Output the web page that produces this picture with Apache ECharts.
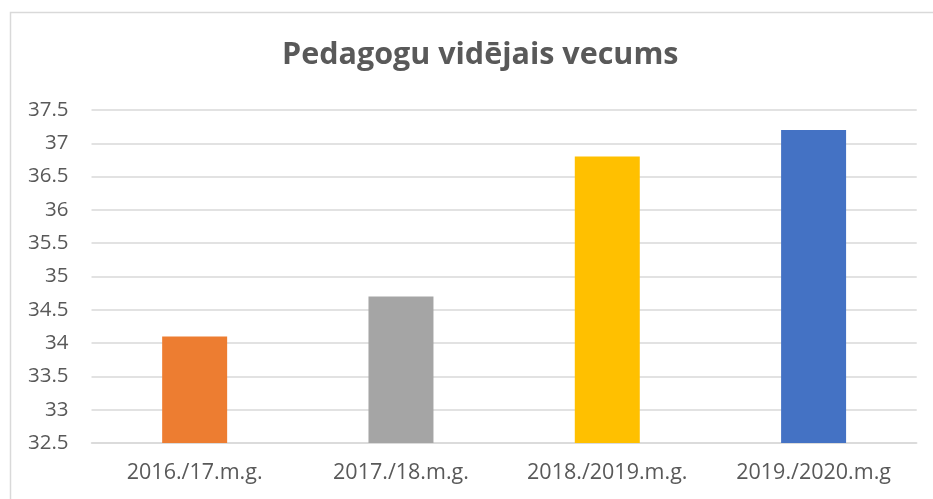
<!DOCTYPE html>
<html>
<head>
<meta charset="utf-8">
<script src="https://cdn.jsdelivr.net/npm/echarts@6/dist/echarts.min.js"></script>
<style>
html,body{margin:0;padding:0;background:#fff;}
#c{width:933px;height:499px;}
</style>
</head>
<body>
<div id="c"></div>
<script>
const titleText = 'Pedagogu vidējais vecums';
const categories = ['2016./17.m.g.', '2017./18.m.g.', '2018./2019.m.g.', '2019./2020.m.g'];
const values = [34.1, 34.7, 36.8, 37.2];
const barColors = ['#ED7D31', '#A5A5A5', '#FFC000', '#4472C4'];
const yMin = 32.5, yMax = 37.5, yStep = 0.5;

const chart = echarts.init(document.getElementById('c'), null, {renderer: 'canvas'});
chart.setOption({
  animation: false,
  backgroundColor: '#fff',
  graphic: [{
    type: 'rect',
    left: 8, top: 10,
    shape: {x: 0, y: 0, width: 940, height: 500},
    style: {fill: 'none', stroke: '#d9d9d9', lineWidth: 1.5},
    silent: true
  }],
  title: {
    text: titleText,
    left: 277,
    top: 35,
    textStyle: {fontFamily: 'Open Sans', fontWeight: 'bold', fontSize: 30.5, color: '#595959'}
  },
  grid: {left: 91.5, right: 16.25, top: 110, bottom: 56, containLabel: false},
  xAxis: {
    type: 'category',
    data: categories,
    axisLine: {lineStyle: {color: '#d9d9d9', width: 1.5}},
    axisTick: {show: false},
    axisLabel: {interval: 0, hideOverlap: false, fontFamily: 'Open Sans', fontSize: 21.5, color: '#595959', margin: 19}
  },
  yAxis: {
    type: 'value',
    min: yMin, max: yMax, interval: yStep,
    axisLine: {show: false},
    axisTick: {show: false},
    splitLine: {lineStyle: {color: '#d9d9d9', width: 1.5}},
    axisLabel: {fontFamily: 'Open Sans', fontSize: 20.5, color: '#595959', margin: 23,
      formatter: v => String(Math.round(v * 10) / 10)}
  },
  series: [{
    type: 'bar',
    barWidth: '31.5%',
    data: values.map((v, i) => ({value: v, itemStyle: {color: barColors[i]}}))
  }]
});
</script>
</body>
</html>
